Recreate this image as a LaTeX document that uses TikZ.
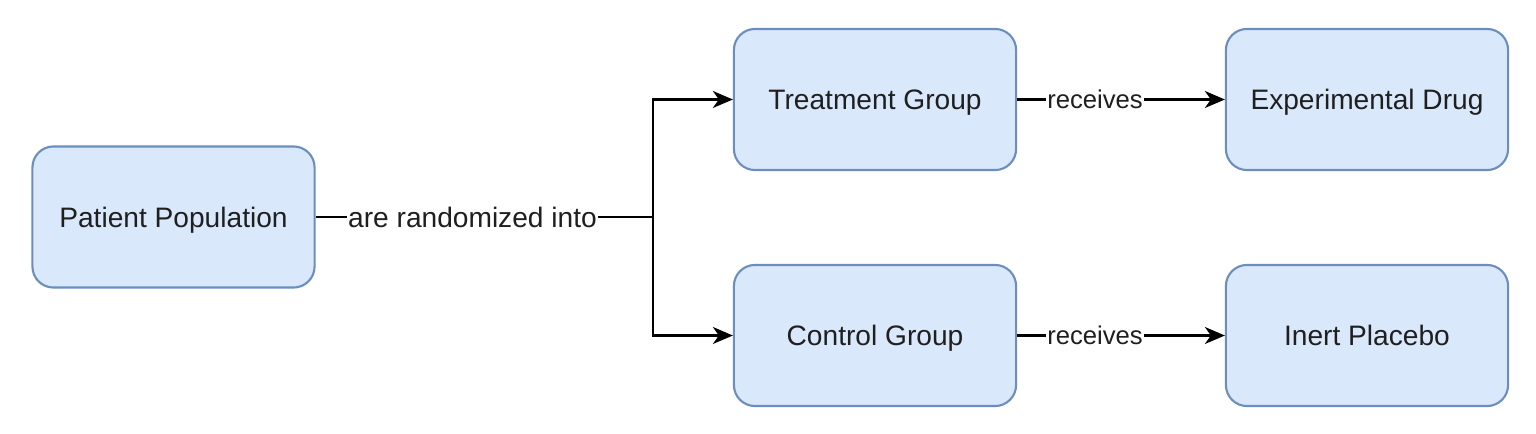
\documentclass[tikz,border=0pt]{standalone}
\usepackage{fontspec}
\setmainfont{Liberation Sans}
\usetikzlibrary{arrows.meta}
\definecolor{boxfill}{HTML}{DAE8FC}
\definecolor{boxline}{HTML}{6C8EBF}
\begin{document}
\begin{tikzpicture}[x=0.01cm,y=-0.01cm,
  box/.style={draw=boxline,fill=boxfill,line width=0.6pt,rounded corners=0.21cm,
    minimum width=2.82cm,minimum height=1.41cm,inner sep=0pt,
    text height=5.73pt,text depth=0pt,
    font=\fontsize{8}{10}\selectfont,text=black!88},
  conn/.style={line width=0.6pt,-{Stealth[length=0.2cm,width=0.17cm,inset=0.06cm]}},
  lbl/.style={fill=white,inner xsep=0.4pt,inner ysep=0.5pt,text depth=0pt,text=black!88},
  lblbig/.style={lbl,text height=5.73pt,font=\fontsize{8}{10}\selectfont},
  lblsmall/.style={lbl,text height=5.2pt,font=\fontsize{7.3}{9}\selectfont}]
\useasboundingbox (0,0) rectangle (1536,434);
\node[box] (pp) at (173.5,217) {Patient Population};
\node[box] (tg) at (875,99.5) {Treatment Group};
\node[box] (ed) at (1367,99.5) {Experimental Drug};
\node[box] (cg) at (875,335.5) {Control Group};
\node[box] (ip) at (1367,335.5) {Inert Placebo};
\coordinate (j) at (653,217);
\draw[line width=0.6pt] (pp.east) -- (j) node[lblbig,pos=0.465] {are randomized into};
\draw[conn] (j) |- (tg.west);
\draw[conn] (j) |- (cg.west);
\draw[conn] (tg.east) -- (ed.west) node[lblsmall,pos=0.375] {receives};
\draw[conn] (cg.east) -- (ip.west) node[lblsmall,pos=0.375] {receives};
\end{tikzpicture}
\end{document}
